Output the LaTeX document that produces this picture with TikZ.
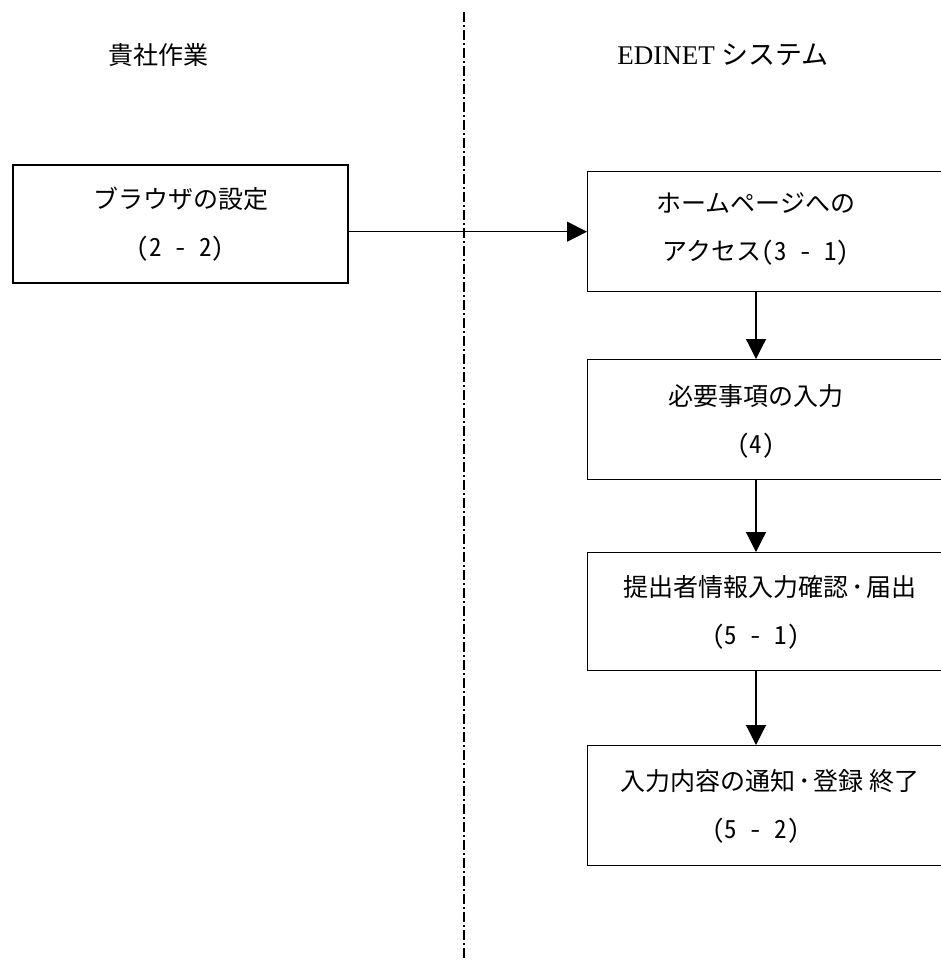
\documentclass[tikz,border=0pt]{standalone}
\usepackage{fontspec}
\setmainfont{Liberation Serif}
\newfontfamily\jpfont{Noto Sans CJK JP}
\newfontfamily\jpnum[CharacterWidth=Half]{Noto Sans CJK JP}
\usetikzlibrary{arrows.meta,positioning}

\tikzset{
  flowbox/.style={draw, line width=1.4pt, minimum height=120pt, inner sep=0pt},
  boxtext/.style={font=\jpfont\fontsize{25}{48}\selectfont, align=center},
  headtext/.style={font=\fontsize{25}{30}\selectfont},
  flowarrow/.style={line width=1.2pt, -{Triangle[length=20pt,width=20pt]}},
  lane/.style={line width=1.2pt, dash pattern=on 10pt off 3pt on 2pt off 3pt},
}

\begin{document}
\begin{tikzpicture}[x=1pt,y=-1pt]
  \useasboundingbox (0,0) rectangle (941,967);

  % lane divider
  \draw[lane] (464,12) -- (464,960);

  \node[headtext] (own) at (158,55) {\jpfont 貴社作業};
  \node[headtext] (sys) at (723,55) {\fontsize{27}{30}\selectfont EDINET {\jpfont\fontsize{27}{30}\selectfont システム}};

  % left side
  \node[flowbox, minimum width=335pt, minimum height=118pt] (browser) at (180.5,224) {};
  \node[boxtext] (browsertxt) at (browser) {ブラウザの設定\\{\jpnum(2 - 2)}};

  % right side, boxes run past the page edge
  \node[flowbox, anchor=north west, minimum width=400pt] (home) at (587,171) {};
  \node[flowbox, anchor=north west, minimum width=400pt] (input) at (587,359) {};
  \node[flowbox, anchor=north west, minimum width=400pt, minimum height=118pt] (confirm) at (587,552) {};
  \node[flowbox, anchor=north west, minimum width=400pt] (notify) at (587,745) {};

  \node[boxtext] (hometxt) at (756,229) {ホームページへの\\アクセス{\jpnum(3 - 1)}};
  \node[boxtext] (inputtxt) at (756,421) {必要事項の入力\\{\jpnum(4)}};
  \node[boxtext] (confirmtxt) at (770,612) {提出者情報入力確認\kern3pt･\kern3pt届出\\\hspace*{-28pt}{\jpnum(5 - 1)}};
  \node[boxtext] (notifytxt) at (770,806) {入力内容の通知\kern3pt･\kern3pt登録 終了\\\hspace*{-28pt}{\jpnum(5 - 2)}};

  \draw[flowarrow] (browser.east |- home.west) -- (home.west);
  \draw[flowarrow] (home.south -| hometxt) -- (input.north -| hometxt);
  \draw[flowarrow] (input.south -| hometxt) -- (confirm.north -| hometxt);
  \draw[flowarrow] (confirm.south -| hometxt) -- (notify.north -| hometxt);
\end{tikzpicture}
\end{document}
